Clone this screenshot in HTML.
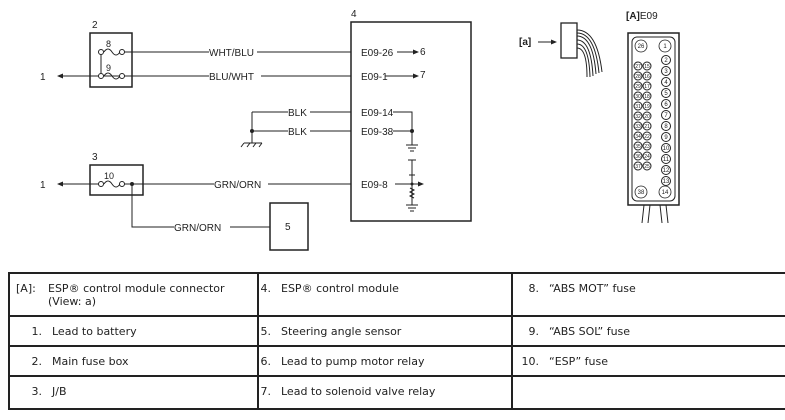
<!DOCTYPE html>
<html><head><meta charset="utf-8"><style>
body{margin:0;width:785px;height:420px;background:#fff;overflow:hidden;font-family:"Liberation Sans",Arial,sans-serif}
svg{position:absolute;left:0;top:0}
table{position:absolute;left:8px;top:272px;width:790px;border-collapse:collapse;font-family:"DejaVu Sans",Verdana,sans-serif;font-size:11px;color:#222}
td{border:2px solid #222;border-right:none;vertical-align:top;padding:8px 0 0 0;}
td.c1{width:247px}td.c2{width:252px}
.n{display:inline-block;width:32px;text-align:right;padding-right:10px}
</style></head><body>
<svg width="785" height="272" viewBox="0 0 785 272" font-size="10" fill="#222" stroke="#222">
<g fill="none" stroke-width="1">
<rect x="90" y="33" width="42" height="54" stroke-width="1.5"/>
<rect x="351" y="22" width="120" height="199" stroke-width="1.5"/>
<rect x="90" y="165" width="53" height="30" stroke-width="1.5"/>
<rect x="270" y="203" width="38" height="47" stroke-width="1.5"/>
<path d="M122 52H209M257 52H351M60 76H209M261 76H351"/>
<path d="M101 52V76"/>
<path d="M104 52q4 -6 8 0q4 6 8 0M104 76q4 -6 8 0q4 6 8 0"/>
<path d="M252 112H288M310 112H351M252 131H288M310 131H351M252 112V143"/>
<path d="M244 143H262M244 143l-3 4M250 143l-3 4M256 143l-3 4M262 143l-3 4"/>
<path d="M393 112H412V145M406 145H418M408 148H416M410 151H414M393 131H412"/>
<path d="M60 184H100M122 184H214M268 184H351M104 184q4 -6 8 0q4 6 8 0M132 184V227H174M230 227H270"/>
<path d="M395 184H420M412 160V205M408 160H416M409 175H415M410 188l4 2-4 2 4 2-4 2 4 2M406 205H418M408 208H416M410 211H414"/>
<path d="M397 52H415M385 76H415M538 42H553"/>
</g>
<g stroke="none">
<circle cx="101" cy="52" r="2.5" fill="#fff" stroke="#222"/><circle cx="122" cy="52" r="2.5" fill="#fff" stroke="#222"/>
<circle cx="101" cy="76" r="2.5" fill="#fff" stroke="#222"/><circle cx="122" cy="76" r="2.5" fill="#fff" stroke="#222"/>
<circle cx="101" cy="184" r="2.5" fill="#fff" stroke="#222"/><circle cx="122" cy="184" r="2.5" fill="#fff" stroke="#222"/>
<circle cx="132" cy="184" r="2"/><circle cx="252" cy="131" r="2"/><circle cx="412" cy="131" r="2"/><circle cx="412" cy="184" r="1.5"/>
<path d="M57 76l6-2.5v5zM57 184l6-2.5v5zM419 52l-6-2.5v5zM419 76l-6-2.5v5zM424 184l-6-2.5v5zM557 42l-6-2.5v5z"/>
<text x="92" y="28">2</text><text x="106" y="47" font-size="9">8</text><text x="106" y="71" font-size="9">9</text>
<text x="40" y="80">1</text><text x="40" y="188">1</text><text x="92" y="160">3</text><text x="104" y="179" font-size="9">10</text>
<text x="351" y="17">4</text><text x="285" y="230">5</text>
<text x="209" y="56">WHT/BLU</text><text x="209" y="80">BLU/WHT</text>
<text x="288" y="116">BLK</text><text x="288" y="135">BLK</text>
<text x="214" y="188">GRN/ORN</text><text x="174" y="231">GRN/ORN</text>
<text x="361" y="56">E09-26</text><text x="361" y="80">E09-1</text><text x="361" y="116">E09-14</text><text x="361" y="135">E09-38</text><text x="361" y="188">E09-8</text>
<text x="420" y="55">6</text><text x="420" y="78">7</text>
<text x="519" y="45" font-weight="bold">[a]</text>
<text x="626" y="19"><tspan font-weight="bold">[A]</tspan>E09</text>
</g>
<g fill="none" stroke-width="1">
<rect x="561" y="23" width="16" height="35" stroke-width="1.3"/>
<path d="M577 30q20 0 25 42M577 33q18 0 22 40M577 36q16 0 19 38M577 40q14 0 16 36M577 44q12 0 13 33M577 48q10 0 10 29"/>
<rect x="628" y="33" width="51" height="172" stroke-width="1.5"/>
<rect x="632" y="37" width="43" height="164" rx="5"/>
<path d="M644 205l-2 18M650 205l-2 18M660 205l2 18M666 205l2 18"/>
</g>
<g stroke-width="0.8" fill="#fff">
<circle cx="641" cy="46" r="6"/><circle cx="665" cy="46" r="6"/>
<circle cx="641" cy="192" r="6"/><circle cx="665" cy="192" r="6"/>
</g>
<g stroke-width="1" fill="#fff">
<circle cx="638" cy="66" r="4"/><circle cx="647" cy="66" r="4"/><circle cx="638" cy="76" r="4"/><circle cx="647" cy="76" r="4"/><circle cx="638" cy="86" r="4"/><circle cx="647" cy="86" r="4"/><circle cx="638" cy="96" r="4"/><circle cx="647" cy="96" r="4"/><circle cx="638" cy="106" r="4"/><circle cx="647" cy="106" r="4"/><circle cx="638" cy="116" r="4"/><circle cx="647" cy="116" r="4"/><circle cx="638" cy="126" r="4"/><circle cx="647" cy="126" r="4"/><circle cx="638" cy="136" r="4"/><circle cx="647" cy="136" r="4"/><circle cx="638" cy="146" r="4"/><circle cx="647" cy="146" r="4"/><circle cx="638" cy="156" r="4"/><circle cx="647" cy="156" r="4"/><circle cx="638" cy="166" r="4"/><circle cx="647" cy="166" r="4"/>
<circle cx="666" cy="60" r="4.5"/><circle cx="666" cy="71" r="4.5"/><circle cx="666" cy="82" r="4.5"/><circle cx="666" cy="93" r="4.5"/><circle cx="666" cy="104" r="4.5"/><circle cx="666" cy="115" r="4.5"/><circle cx="666" cy="126" r="4.5"/><circle cx="666" cy="137" r="4.5"/><circle cx="666" cy="148" r="4.5"/><circle cx="666" cy="159" r="4.5"/><circle cx="666" cy="170" r="4.5"/><circle cx="666" cy="181" r="4.5"/>
</g>
<g stroke="none" font-size="6" text-anchor="middle">
<text x="641" y="48">26</text><text x="665" y="48">1</text><text x="641" y="194">38</text><text x="665" y="194">14</text>
<text x="666" y="62">2</text><text x="666" y="73">3</text><text x="666" y="84">4</text><text x="666" y="95">5</text><text x="666" y="106">6</text><text x="666" y="117">7</text><text x="666" y="128">8</text><text x="666" y="139">9</text><text x="666" y="150">10</text><text x="666" y="161">11</text><text x="666" y="172">12</text><text x="666" y="183">13</text>
<g font-size="5">
<text x="638" y="68">27</text><text x="647" y="68">15</text><text x="638" y="78">28</text><text x="647" y="78">16</text><text x="638" y="88">29</text><text x="647" y="88">17</text><text x="638" y="98">30</text><text x="647" y="98">18</text><text x="638" y="108">31</text><text x="647" y="108">19</text><text x="638" y="118">32</text><text x="647" y="118">20</text><text x="638" y="128">33</text><text x="647" y="128">21</text><text x="638" y="138">34</text><text x="647" y="138">22</text><text x="638" y="148">35</text><text x="647" y="148">23</text><text x="638" y="158">36</text><text x="647" y="158">24</text><text x="638" y="168">37</text><text x="647" y="168">25</text>
</g>
</g>
</svg>
<table>
<tr style="height:43px"><td class="c1"><span class="n" style="width:22px;text-align:left;padding-left:6px">[A]:</span><span style="display:inline-block;vertical-align:top">ESP® control module connector<br>(View: a)</span></td><td class="c2"><span class="n" style="width:12px">4.</span>ESP® control module</td><td><span class="n" style="width:26px">8.</span>“ABS MOT” fuse</td></tr>
<tr style="height:30px"><td class="c1"><span class="n">1.</span>Lead to battery</td><td class="c2"><span class="n" style="width:12px">5.</span>Steering angle sensor</td><td><span class="n" style="width:26px">9.</span>“ABS SOL” fuse</td></tr>
<tr style="height:30px"><td class="c1"><span class="n">2.</span>Main fuse box</td><td class="c2"><span class="n" style="width:12px">6.</span>Lead to pump motor relay</td><td><span class="n" style="width:26px">10.</span>“ESP” fuse</td></tr>
<tr style="height:33px"><td class="c1"><span class="n">3.</span>J/B</td><td class="c2"><span class="n" style="width:12px">7.</span>Lead to solenoid valve relay</td><td></td></tr>
</table>
</body></html>
